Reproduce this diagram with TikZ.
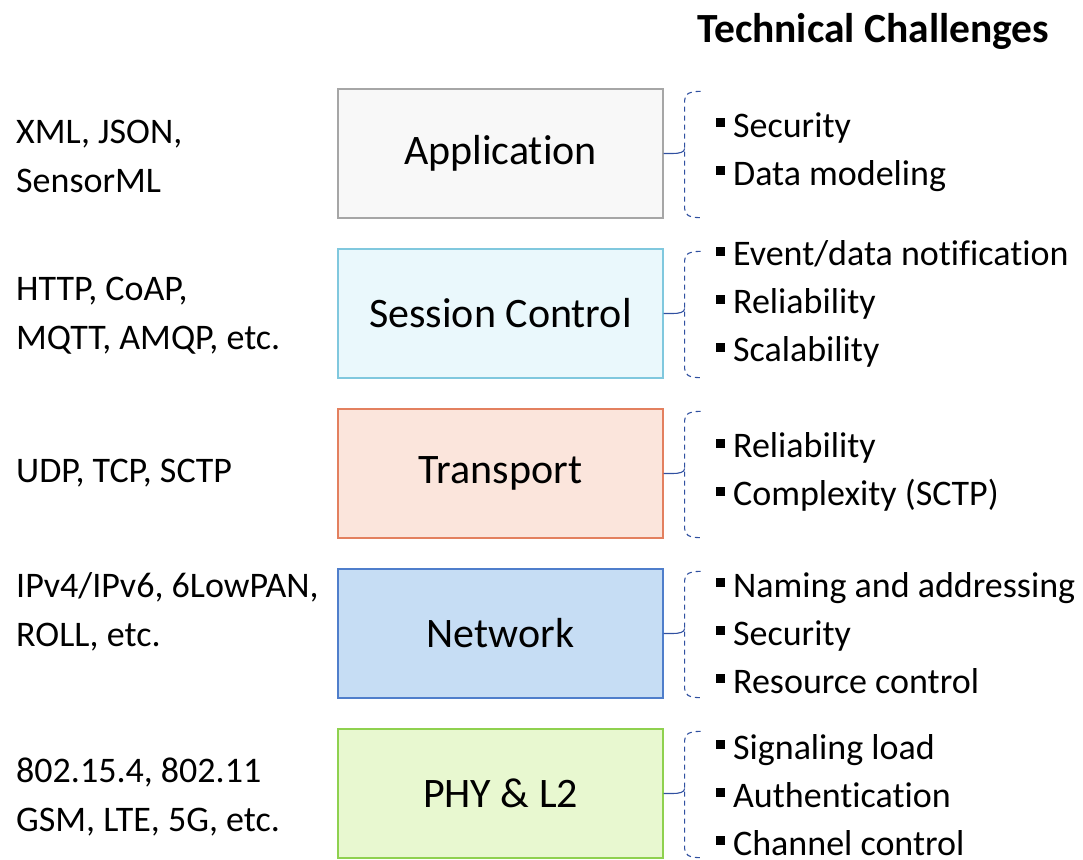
\documentclass[tikz,border=0pt]{standalone}
\usepackage{fontspec}
\setmainfont{Carlito}[RawFeature={-liga;-clig;-calt;-dlig}]
\usetikzlibrary{calc}

\definecolor{appfill}{HTML}{F8F8F8}
\definecolor{appline}{HTML}{A6A6A6}
\definecolor{sesfill}{HTML}{EAF8FC}
\definecolor{sesline}{HTML}{80C8DE}
\definecolor{trafill}{HTML}{FBE5DC}
\definecolor{traline}{HTML}{E3805F}
\definecolor{netfill}{HTML}{C6DDF4}
\definecolor{netline}{HTML}{4F7ECB}
\definecolor{phyfill}{HTML}{E8F8D0}
\definecolor{phyline}{HTML}{8FD14F}
\definecolor{bracecol}{HTML}{3050A0}

\newcommand{\sqb}{\raisebox{0.28em}{\rule{0.25em}{0.25em}}\hspace{0.22em}}

\tikzset{
  layerbox/.style={draw, line width=1.3pt, minimum width=325pt, minimum height=129pt,
    inner sep=0pt, font=\fontsize{42}{49}\selectfont},
  protolist/.style={anchor=west, align=left, inner sep=0pt,
    font=\fontsize{36}{49}\selectfont},
  issuelist/.style={anchor=west, align=left, inner sep=0pt,
    font=\fontsize{36}{48}\selectfont},
  bracket/.style={draw=bracecol, line width=1.1pt, dash pattern=on 5pt off 4pt},
  bracketstub/.style={draw=bracecol, line width=1.1pt},
}

% bracket from a layer box to its list of challenges
\newcommand{\challengebrace}[1]{%
  \draw[bracket] ($(#1.north east)+(37,3)$) .. controls +(-12,0) and +(0,-6) ..
    ($(#1.north east)+(21,12)$) -- ($(#1.south east)+(21,-10)$)
    .. controls +(0,6) and +(-12,0) .. ($(#1.south east)+(37,-1)$);
  \draw[bracketstub] (#1.east) -- +(9,0) .. controls +(6,0) and +(0,4) .. ($(#1.east)+(21,-5)$);
}

\begin{document}
\begin{tikzpicture}[x=1pt, y=-1pt]
\useasboundingbox (0,0) rectangle (1083,859);

% heading
\node[anchor=base west, inner sep=0pt, font=\fontsize{41.5}{49}\selectfont\bfseries]
  (head) at (697,42) {Technical Challenges};

% protocol stack
\node[layerbox, draw=appline, fill=appfill] (app) at (500.5,153.5) {Application};
\node[layerbox, draw=sesline, fill=sesfill] (ses) at (500.5,313.5) {Session Control};
\node[layerbox, draw=traline, fill=trafill] (tra) at (500.5,473.5) {Transport};
\node[layerbox, draw=netline, fill=netfill] (net) at (500.5,633.5) {Network};
\node[layerbox, draw=phyline, fill=phyfill] (phy) at (500.5,793.5) {PHY \& L2};

% example protocols per layer
\node[protolist] (appP) at (16,156) {XML, JSON,\\SensorML};
\node[protolist] (sesP) at (16,316) {HTTP, CoAP,\\MQTT, AMQP, etc.};
\node[protolist] (traP) at (16,473) {UDP, TCP, SCTP};
\node[protolist] (netP) at (16,612) {IPv4/IPv6, 6LowPAN,\\ROLL, etc.};
\node[protolist] (phyP) at (16,797) {802.15.4, 802.11\\GSM, LTE, 5G, etc.};

% challenges per layer
\node[issuelist] (appC) at (716,152) {\sqb Security\\\sqb Data modeling};
\node[issuelist] (sesC) at (716,304) {\sqb Event/data notification\\\sqb Reliability\\\sqb Scalability};
\node[issuelist] (traC) at (716,472) {\sqb Reliability\\\sqb Complexity (SCTP)};
\node[issuelist] (netC) at (716,633) {\sqb Naming and addressing\\\sqb Security\\\sqb Resource control};
\node[issuelist] (phyC) at (716,795) {\sqb Signaling load\\\sqb Authentication\\\sqb Channel control};

\challengebrace{app}
\challengebrace{ses}
\challengebrace{tra}
\challengebrace{net}
\challengebrace{phy}
\end{tikzpicture}
\end{document}
